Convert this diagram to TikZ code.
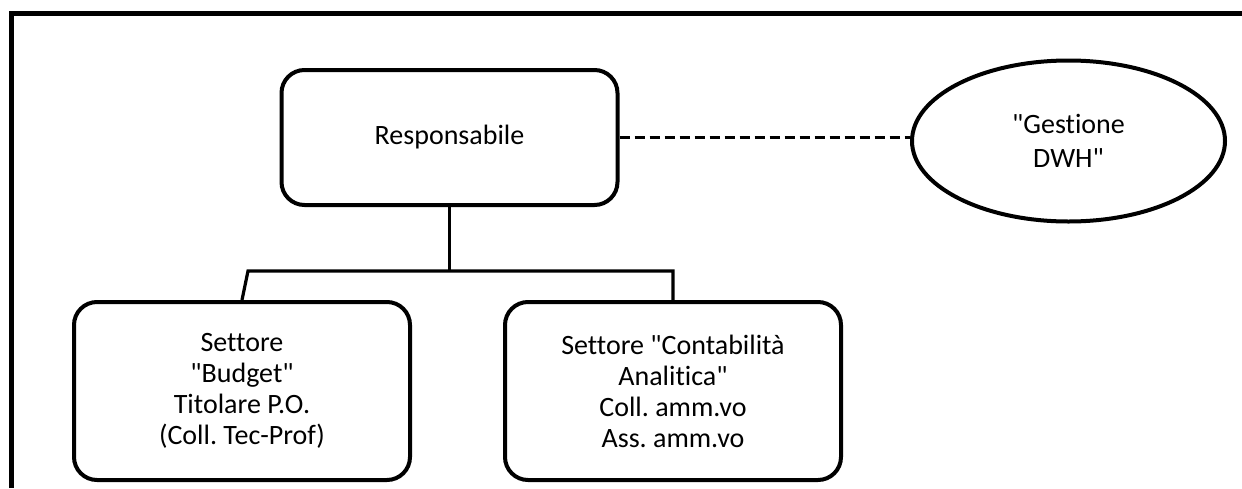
\documentclass[tikz,border=0pt]{standalone}
\usepackage{fontspec}
\setmainfont{Carlito}[Ligatures={TeXOff,NoCommon}]
\usetikzlibrary{shapes.geometric}
\frenchspacing
\begin{document}
\begin{tikzpicture}[x=1pt,y=-1pt,
  unitbox/.style={draw, line width=4pt, rounded corners=23pt, inner sep=0pt,
    minimum width=336pt, align=center,
    font=\fontsize{28}{31}\selectfont},
  bubble/.style={draw, ellipse, line width=4pt, inner sep=0pt,
    minimum width=313pt, minimum height=161pt, align=center,
    font=\fontsize{28}{34}\selectfont},
  link/.style={line width=3.2pt},
  tie/.style={line width=3.2pt, dash pattern=on 10pt off 5pt}]
\useasboundingbox (0,0) rectangle (1242,488);
% frame: only the top and left sides fall inside the page
\draw[line width=5pt] (11.5,488) -- (11.5,13.5) -- (1242,13.5);

\node[unitbox, minimum height=135pt] (resp) at (449.5,137.5) {Responsabile};
\node[bubble] (dwh) at (1068.5,141) {"Gestione\\DWH"};
\node[unitbox, minimum height=178pt] (budget) at (242,391)
  {Settore\\"Budget"\\Titolare P.O.\\(Coll. Tec-Prof)};
\node[unitbox, minimum height=178pt] (cont) at (673,391)
  {Settore "Contabilità\\Analitica"\\Coll. amm.vo\\Ass. amm.vo};

\coordinate (busL) at (248,271);
\coordinate (busR) at (cont.north |- busL);

\draw[link] (resp.south) -- (resp.south |- busL);
\draw[link] (budget.north) -- (busL) -- (busR) -- (cont.north);
\draw[tie] (resp.east) -- (resp.east -| dwh.west);
\end{tikzpicture}
\end{document}
